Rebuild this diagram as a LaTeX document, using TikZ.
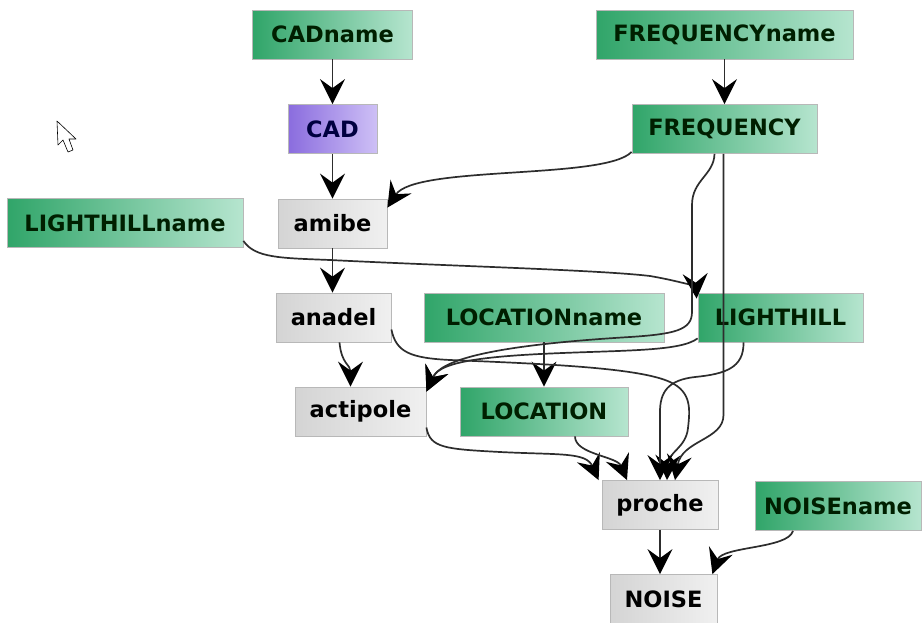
\documentclass[tikz,border=0pt]{standalone}
\usepackage{fontspec}
\setmainfont{DejaVu Sans}
\usetikzlibrary{arrows.meta, positioning, calc}

\definecolor{grnL}{RGB}{48,165,105}
\definecolor{grnR}{RGB}{182,229,207}
\definecolor{purL}{RGB}{138,108,222}
\definecolor{purR}{RGB}{206,192,246}
\definecolor{gryL}{RGB}{212,212,212}
\definecolor{gryR}{RGB}{240,240,240}
\definecolor{edgegray}{RGB}{45,45,45}

\begin{document}
\begin{tikzpicture}[
    x=1pt, y=-1pt,
    font=\fontsize{22.5}{26}\selectfont\bfseries, >={Stealth[length=25pt,width=25pt,inset=9pt,color=black]},
    box/.style    ={rectangle, draw=black!28, line width=0.8pt, minimum height=49pt, inner sep=2pt},
    varbox/.style ={box, left color=grnL, right color=grnR, text=green!12!black},
    srcbox/.style ={box, left color=purL, right color=purR, text=blue!25!black},
    opbox/.style  ={box, left color=gryL, right color=gryR, text=black},
    edge/.style   ={->, line width=1.7pt, draw=edgegray},
]
\useasboundingbox[fill=white] (0,0) rectangle (922,622);

\node[varbox, minimum width=160pt] (cadname)   at (332.5,34.5) {CADname};
\node[varbox, minimum width=257pt] (freqname)  at (724.5,34.5) {FREQUENCYname};
\node[srcbox, minimum width=89pt]  (cad)       at (332.5,129)  {CAD};
\node[varbox, minimum width=185pt] (freq)      at (724.5,129)  {FREQUENCY};
\node[varbox, minimum width=236pt] (lhname)    at (125,223)    {LIGHTHILLname};
\node[opbox,  minimum width=109pt] (amibe)     at (332.5,223.5){amibe};
\node[opbox,  minimum width=115pt] (anadel)    at (333.5,317.5){anadel};
\node[varbox, minimum width=240pt] (locname)   at (544,317.5)  {LOCATIONname};
\node[varbox, minimum width=165pt] (lighthill) at (780.5,317.5){LIGHTHILL};
\node[opbox,  minimum width=131pt] (actipole)  at (360.5,411.5){actipole};
\node[varbox, minimum width=168pt] (location)  at (544,411.5)  {LOCATION};
\node[opbox,  minimum width=116pt] (proche)    at (660,505)    {proche};
\node[varbox, minimum width=166pt] (noisename) at (838,506)    {NOISEname};
\node[opbox,  minimum width=107pt] (noise)     at (663.5,599)  {NOISE};

\draw[fill=white, line width=0.6pt, line join=round] (57,121) -- (58,145) -- (63,140) -- (68,152) -- (73,150) -- (69,139) -- (76,139) -- cycle;

\draw[edge] (cadname) -- (cad);
\draw[edge] (cad) -- (amibe);
\draw[edge] (freqname) -- (freq);
\draw[edge] (amibe) -- (amibe |- anadel.north);
\draw[edge] (locname) -- (location);
\draw[edge] (proche) -- (proche |- noise.north);
\draw[edge] ([yshift=2pt]freq.south west) .. controls (605,180) and (415,165) .. ([yshift=-9pt]amibe.north east);
\draw[edge] ([yshift=7pt]lhname.south east) .. controls (255,258) and (280,258) .. (330,260) .. controls (450,266) and (600,270) .. (650,276) .. controls (685,282) and (696,288) .. ([xshift=-1pt,yshift=-6pt]lighthill.north west);
\draw[edge] ([xshift=-10pt]freq.south) .. controls (714,175) and (692,180) .. (692,205) -- (692,312) .. controls (692,330) and (675,334) .. (630,337) .. controls (480,346) and (440,362) .. ([yshift=-5pt]actipole.north east);
\draw[edge] ([yshift=4pt]lighthill.south west) .. controls (680,352) and (620,350) .. (540,354) .. controls (460,358) and (438,366) .. ([yshift=-5pt]actipole.north east);
\draw[edge] ([xshift=6pt]anadel.south) .. controls +(2,22) and +(0,-22) .. ([xshift=-10pt]actipole.north);
\draw[edge] ([yshift=-12pt]anadel.east) .. controls (396,352) and (410,358) .. (450,360) .. controls (550,364) and (640,368) .. (670,382) .. controls (692,392) and (690,410) .. (688,428) .. controls (686,448) and (668,452) .. ([xshift=7pt]proche.north);
\draw[edge] ([xshift=-1pt]freq.south) -- (723.5,415) .. controls (723.5,440) and (682,440) .. ([xshift=15pt]proche.north);
\draw[edge] ([xshift=-37pt]lighthill.south) .. controls (744,368) and (725,374) .. (695,377) .. controls (668,380) and (660,392) .. (660,412) -- (proche.north);
\draw[edge] ([yshift=-16pt]actipole.east) .. controls (430,448) and (445,449) .. (500,452) .. controls (560,455) and (586,452) .. ([xshift=-3pt]proche.north west);
\draw[edge] ([xshift=31pt]location.south) .. controls +(0,18) and +(-10,-24) .. ([xshift=-33pt]proche.north);
\draw[edge] ([xshift=-45pt]noisename.south) .. controls +(-5,18) and +(10,-28) .. ([xshift=-5pt]noise.north east);
\end{tikzpicture}
\end{document}
